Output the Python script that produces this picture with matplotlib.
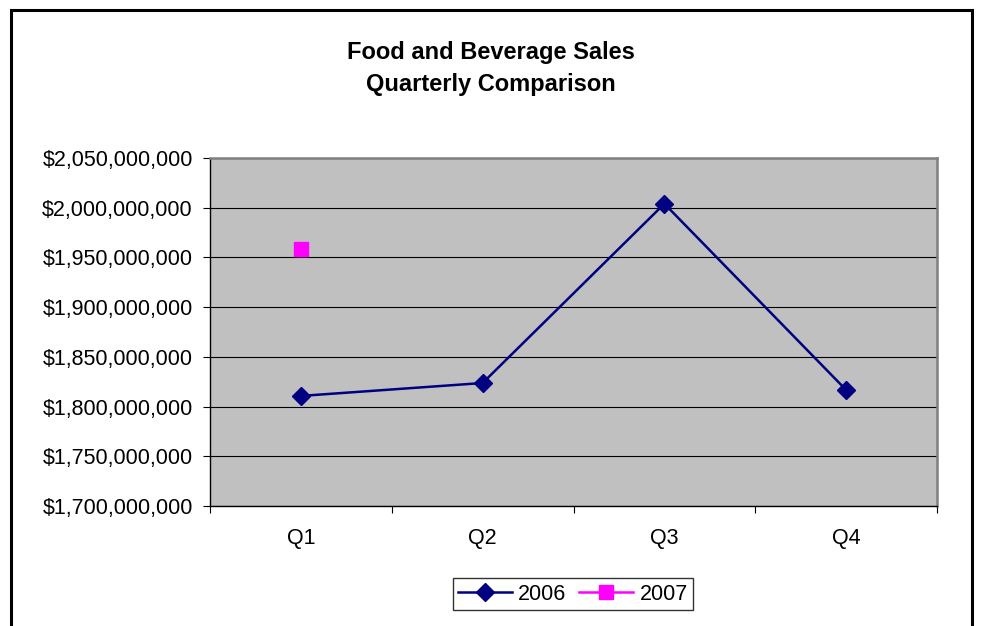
import numpy as np
import matplotlib
matplotlib.use('Agg')
import matplotlib.pyplot as plt
from matplotlib.patches import Rectangle
from matplotlib.ticker import FuncFormatter, MultipleLocator

plt.rcParams['font.family'] = ['Liberation Sans', 'DejaVu Sans']

quarters = ['Q1', 'Q2', 'Q3', 'Q4']
sales_2006 = [1810700000, 1823700000, 2004000000, 1816700000]
sales_2007 = [1958400000, np.nan, np.nan, np.nan]

W, H = 982, 626
fig = plt.figure(figsize=(W / 100, H / 100), dpi=100)

# outer chart frame
fig.patches.append(Rectangle((10.5 / W, -0.05), 961 / W, (H - 10.5) / H + 0.05,
                             transform=fig.transFigure, fill=False,
                             edgecolor='black', linewidth=2.2))

ax = fig.add_axes([210 / W, (H - 506) / H, 727 / W, 348 / H])
ax.set_facecolor('#C0C0C0')

x = np.arange(len(quarters))
ax.plot(x, sales_2006, color='#000080', linewidth=1.8, marker='D',
        markersize=9, markerfacecolor='#000080', markeredgecolor='#000080',
        label='2006', zorder=3)
ax.plot(x, sales_2007, color='#FF00FF', linewidth=1.8, marker='s',
        markersize=10.5, markerfacecolor='#FF00FF', markeredgecolor='#FF00FF',
        label='2007', zorder=3)

ax.set_xlim(-0.5, 3.5)
ax.set_ylim(1.70e9, 2.05e9)
ax.yaxis.set_major_locator(MultipleLocator(50e6))
ax.yaxis.set_major_formatter(FuncFormatter(lambda v, p: f'${v:,.0f}'))
ax.grid(axis='y', color='black', linewidth=0.8, zorder=1)
ax.set_axisbelow(True)

ax.set_xticks(x)
ax.set_xticklabels(quarters)
ax.set_xticks(np.arange(-0.5, 4.0, 1.0), minor=True)
ax.tick_params(axis='x', which='major', length=0, pad=16, labelsize=15.5)
ax.tick_params(axis='x', which='minor', length=5, width=0.8, direction='out')
ax.tick_params(axis='y', length=5, width=0.8, pad=7.3, labelsize=15.5)

for side in ['left', 'bottom']:
    ax.spines[side].set_color('black')
    ax.spines[side].set_linewidth(1.0)
for side in ['top', 'right']:
    ax.spines[side].set_color('#808080')
    ax.spines[side].set_linewidth(1.8)

fig.text(0.5, (H - 69) / H, 'Food and Beverage Sales\nQuarterly Comparison',
         ha='center', va='center', fontsize=17, fontweight='bold',
         linespacing=1.5)

leg = fig.legend(loc='center', bbox_to_anchor=(573 / W, (H - 594) / H),
                 ncol=2, fontsize=15.5, frameon=True, fancybox=False,
                 edgecolor='black', handlelength=2.5, handletextpad=0.3,
                 columnspacing=0.6, borderpad=0.25, borderaxespad=0)
leg.get_frame().set_linewidth(1.0)

fig.savefig('out.png', dpi=100)
